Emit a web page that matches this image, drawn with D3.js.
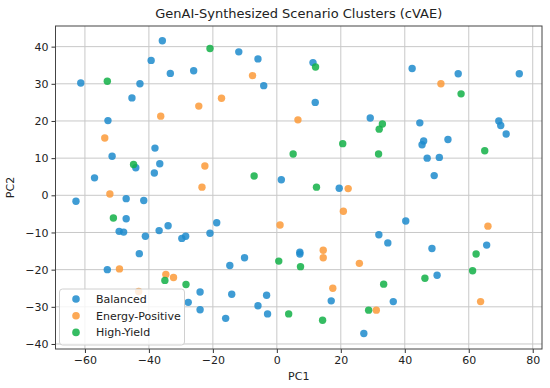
<!DOCTYPE html>
<html>
<head>
<meta charset="utf-8">
<script src="https://cdn.jsdelivr.net/npm/d3@7"></script>
<style>
  body { margin: 0; background: #fff; }
  svg { font-family: "DejaVu Sans", sans-serif; }
</style>
</head>
<body>
<script>
// Data (PC1, PC2)
const balanced = [
  [-35.8,41.6],[-39.3,36.3],[-33.3,32.8],[-26.0,33.5],[-61.3,30.2],[-42.8,30.0],[-45.3,26.2],
  [-52.8,20.1],[-38.1,12.7],[-51.5,10.5],[-44.1,7.4],[-36.6,8.5],[-38.3,6.0],[-57.0,4.7],
  [-11.9,38.6],[-5.9,36.7],[11.3,35.7],[-4.1,29.5],[12.0,25.0],[29.2,20.8],[1.4,4.2],[19.5,1.9],
  [42.3,34.1],[56.7,32.7],[75.8,32.7],[44.7,19.5],[69.4,20.0],[70.0,18.8],[71.7,16.5],
  [45.9,14.6],[45.4,13.6],[53.5,15.0],[47.0,10.0],[50.8,10.2],[49.2,5.3],
  [-62.8,-1.6],[-47.1,-0.9],[-41.6,-1.4],[-47.1,-6.3],[-49.3,-9.7],[-47.9,-9.9],[-41.1,-11.0],
  [-36.8,-9.5],[-34.0,-8.2],[-29.7,-11.6],[-28.5,-11.0],[-20.9,-10.2],[-18.8,-7.4],[-43.0,-15.7],
  [-53.0,-20.0],[-24.0,-26.0],[-27.7,-28.8],[-24.0,-30.8],[-16.0,-33.1],
  [31.9,-10.6],[34.7,-12.8],[7.2,-15.3],[7.2,-15.8],[-10.1,-16.8],[-14.7,-18.9],[17.0,-28.4],
  [-14.1,-26.6],[-3.2,-26.9],[-5.9,-29.7],[-2.9,-31.9],[27.2,-37.2],
  [40.3,-6.9],[48.5,-14.3],[65.6,-13.4],[50.1,-21.5],[36.4,-28.6]
];
const energyPositive = [
  [-24.4,24.0],[-17.3,26.1],[-36.3,21.3],[-53.8,15.4],[-22.5,7.9],[-23.4,2.2],[-52.2,0.35],
  [-7.6,32.2],[6.6,20.3],[22.3,1.8],[51.3,30.0],[20.8,-4.3],[1.0,-8.0],[14.5,-14.8],[14.5,-16.8],
  [25.8,-18.3],[17.5,-25.0],[31.1,-30.9],[-49.2,-19.8],[-34.7,-21.3],[-32.3,-22.1],[-43.2,-25.9],
  [66.0,-8.3],[63.7,-28.6]
];
const highYield = [
  [-20.9,39.5],[-53.0,30.7],[-44.8,8.3],[12.1,34.5],[33.0,19.2],[32.0,17.8],[20.6,13.9],
  [5.1,11.1],[31.8,11.1],[-7.1,5.2],[12.4,2.2],[57.6,27.3],[65.0,12.0],[-51.1,-6.1],
  [-35.0,-22.9],[-28.4,-24.0],[0.6,-17.7],[7.4,-19.2],[33.4,-23.9],[3.7,-31.9],[14.3,-33.6],
  [28.7,-30.9],[62.3,-15.8],[61.2,-20.3],[46.3,-22.3]
];
const seriesNames = ['Balanced', 'Energy-Positive', 'High-Yield'];
const seriesColors = ['#1d8bcc', '#fb9a38', '#12b046'];
const xTicks = [-60, -40, -20, 0, 20, 40, 60, 80];
const yTicks = [-40, -30, -20, -10, 0, 10, 20, 30, 40];

const width = 550;
const height = 388;
const margin = {top: 26, right: 8, bottom: 39, left: 55.5};

const svg = d3.select('body')
  .append('svg')
  .attr('width', width)
  .attr('height', height);

const x = d3.scaleLinear()
  .domain([-69.2, 82.9])
  .range([margin.left, width - margin.right]);

const y = d3.scaleLinear()
  .domain([-41.35, 45.55])
  .range([height - margin.bottom, margin.top]);

// grid
svg.append('g')
  .selectAll('line')
  .data(xTicks)
  .join('line')
  .attr('x1', d => x(d)).attr('x2', d => x(d))
  .attr('y1', margin.top).attr('y2', height - margin.bottom)
  .attr('stroke', '#c8c8c8').attr('stroke-width', 1);

svg.append('g')
  .selectAll('line')
  .data(yTicks)
  .join('line')
  .attr('y1', d => y(d)).attr('y2', d => y(d))
  .attr('x1', margin.left).attr('x2', width - margin.right)
  .attr('stroke', '#c8c8c8').attr('stroke-width', 1);

// points, one layer per series
[balanced, energyPositive, highYield].forEach((pts, i) => {
  svg.append('g')
    .selectAll('circle')
    .data(pts)
    .join('circle')
    .attr('cx', d => x(d[0]))
    .attr('cy', d => y(d[1]))
    .attr('r', 3.7)
    .style('fill', seriesColors[i])
    .style('fill-opacity', 0.85);
});

// axes
const xAxis = svg.append('g')
  .attr('transform', `translate(0,${height - margin.bottom})`)
  .call(d3.axisBottom(x).tickValues(xTicks).tickSize(4).tickPadding(3));

const yAxis = svg.append('g')
  .attr('transform', `translate(${margin.left},0)`)
  .call(d3.axisLeft(y).tickValues(yTicks).tickSize(4).tickPadding(3));

[xAxis, yAxis].forEach(a => {
  a.select('.domain').remove();
  a.selectAll('line').attr('stroke', '#333');
  a.selectAll('text').attr('fill', '#222').style('font-size', '11px').style('font-family', '"DejaVu Sans", sans-serif');
});

// frame
svg.append('rect')
  .attr('x', margin.left)
  .attr('y', margin.top)
  .attr('width', width - margin.right - margin.left)
  .attr('height', height - margin.bottom - margin.top)
  .attr('fill', 'none')
  .attr('stroke', '#444')
  .attr('stroke-width', 1);

// labels
svg.append('text')
  .attr('x', (margin.left + width - margin.right) / 2)
  .attr('y', 18)
  .attr('text-anchor', 'middle')
  .style('font-size', '13px')
  .attr('fill', '#222')
  .text('GenAI-Synthesized Scenario Clusters (cVAE)');

svg.append('text')
  .attr('x', (margin.left + width - margin.right) / 2)
  .attr('y', 380)
  .attr('text-anchor', 'middle')
  .style('font-size', '11px')
  .attr('fill', '#222')
  .text('PC1');

svg.append('text')
  .attr('transform', `translate(14,${(margin.top + height - margin.bottom) / 2}) rotate(-90)`)
  .attr('text-anchor', 'middle')
  .style('font-size', '11px')
  .attr('fill', '#222')
  .text('PC2');

// legend
const legend = svg.append('g').attr('transform', `translate(${margin.left + 4},${height - margin.bottom - 60})`);
legend.append('rect')
  .attr('width', 125)
  .attr('height', 56)
  .attr('rx', 3)
  .attr('fill', 'white')
  .attr('fill-opacity', 0.8)
  .attr('stroke', '#d0d0d0');

seriesNames.forEach((name, i) => {
  legend.append('circle')
    .attr('cx', 16.5)
    .attr('cy', 10 + i * 16.7)
    .attr('r', 3.8)
    .style('fill', seriesColors[i])
    .style('fill-opacity', 0.85);
  legend.append('text')
    .attr('x', 36.5)
    .attr('y', 10 + i * 16.7)
    .attr('dy', '0.35em')
    .style('font-size', '11px')
    .attr('fill', '#222')
    .text(name);
});
</script>
</body>
</html>
